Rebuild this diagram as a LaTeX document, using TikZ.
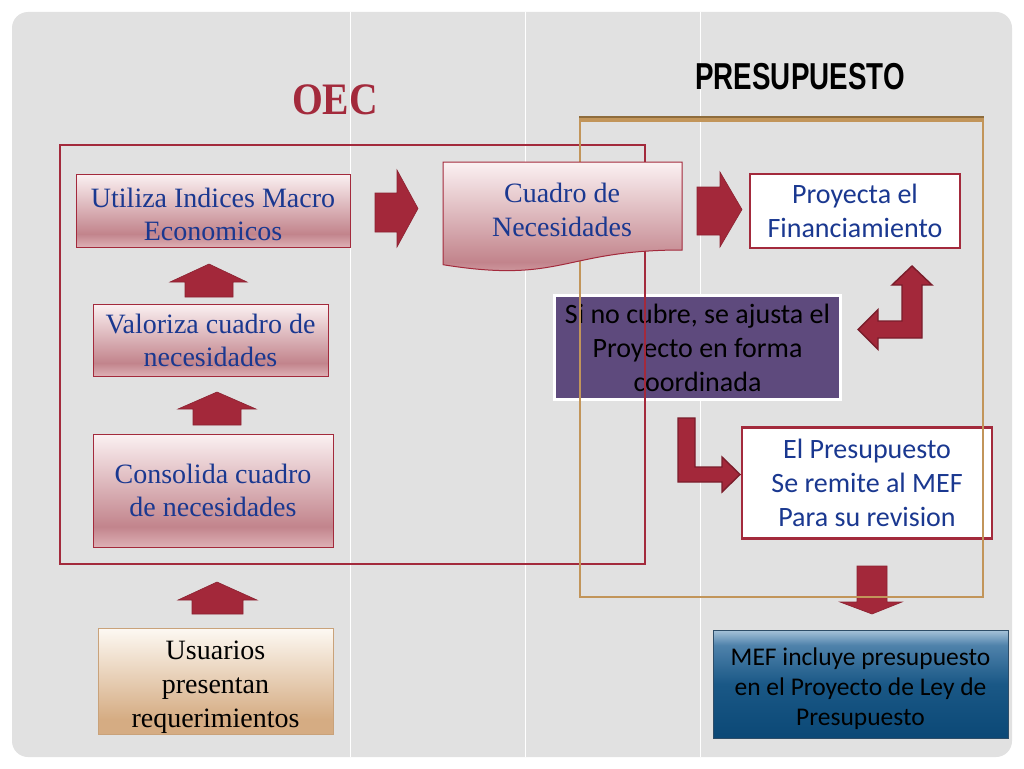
\documentclass[tikz,border=0pt]{standalone}
\usepackage{fontspec}
\usepackage{graphicx}
\setmainfont{Liberation Serif}
\newfontfamily\calibri{Carlito}
\newfontfamily\headsans{Liberation Sans}
\definecolor{panel}{HTML}{E1E1E1}
\definecolor{oecred}{HTML}{A32A3C}
\definecolor{tanline}{HTML}{C2955A}
\definecolor{tandark}{HTML}{8E6C3C}
\definecolor{arrowred}{HTML}{A3283A}
\definecolor{arrowedge}{HTML}{7A1D2B}
\definecolor{txtblue}{HTML}{1A3890}
\definecolor{purplefill}{HTML}{5E4A7D}
\definecolor{pktop}{HTML}{FBF1F2}
\definecolor{pkdark}{HTML}{C2848C}
\definecolor{pkbot}{HTML}{DDB0B5}
\definecolor{tntop}{HTML}{FDF9F3}
\definecolor{tnbot}{HTML}{D5AC83}
\definecolor{tnedge}{HTML}{C9A27A}
\definecolor{mbtop}{HTML}{A7C3D9}
\definecolor{mbmid}{HTML}{4F82AB}
\definecolor{mbdark}{HTML}{1A5886}
\definecolor{mbbot}{HTML}{0B4876}
\definecolor{mbedge}{HTML}{2E4D68}
\pgfdeclareverticalshading{pinkshade}{100bp}{color(0bp)=(pkbot); color(25bp)=(pkbot); color(34bp)=(pkdark); color(75bp)=(pktop); color(100bp)=(pktop)}
\pgfdeclareverticalshading{tanshade}{100bp}{color(0bp)=(tnbot); color(25bp)=(tnbot); color(32bp)=(tnbot); color(75bp)=(tntop); color(100bp)=(tntop)}
\pgfdeclareverticalshading{blueshade}{100bp}{color(0bp)=(mbbot); color(25bp)=(mbbot); color(50bp)=(mbdark); color(68bp)=(mbmid); color(75bp)=(mbtop); color(100bp)=(mbtop)}
\tikzset{
  oecbox/.style={draw=oecred, line width=1pt, shading=pinkshade, text=txtblue, align=center, inner sep=0pt, font=\fontsize{28}{33}\selectfont},
  userbox/.style={draw=tnedge, line width=1pt, shading=tanshade, inner sep=0pt},
  whitebox/.style={draw=oecred, line width=2.5pt, fill=white, text=txtblue, align=center, inner sep=0pt, font=\calibri\fontsize{28}{34}\selectfont},
  purplebox/.style={draw=white, line width=3pt, fill=purplefill, text=black, align=center, inner sep=0pt, font=\calibri\fontsize{28}{34}\selectfont},
  mefbox/.style={draw=mbedge, line width=1pt, shading=blueshade, inner sep=0pt},
  boxtext/.style={inner sep=0pt, align=center},
  blockarrow/.style={fill=arrowred, draw=arrowred!85!black, line width=0.6pt, line join=miter},
  bentarrow/.style={fill=arrowred, draw=arrowedge, line width=1.4pt, line join=miter}
}
\begin{document}
\begin{tikzpicture}[x=1pt,y=-1pt]
\useasboundingbox (0,0) rectangle (1024,768);
\fill[white] (0,0) rectangle (1024,768);
\fill[panel, rounded corners=16pt] (12,12) rectangle (1012,757);
\foreach \xx in {350,525,700} \draw[white, line width=1pt] (\xx,12) -- (\xx,757);

% titles
\node[inner sep=0pt, text=oecred, font=\bfseries\fontsize{45}{48}\selectfont] (oec) at (335,100) {\scalebox{0.88}[1]{OEC}};
\node[inner sep=0pt, text=black, font=\headsans\bfseries\fontsize{37.5}{40}\selectfont] (presu) at (800,76.5) {\scalebox{0.74}[1]{PRESUPUESTO}};

% purple box (under the frame lines)
\node[purplebox, minimum width=286pt, minimum height=104pt] (ajuste) at (697.5,347.5) {Si no cubre, se ajusta el\\Proyecto en forma\\coordinada};

% down arrow to MEF
\path[blockarrow] (857,566) -- (887,566) -- (887,602) -- (902,602) -- (872,614) -- (840,602) -- (857,602) -- cycle;

% El Presupuesto box
\node[whitebox, minimum width=250pt, minimum height=111pt] (remite) at (867,483) {El Presupuesto\\Se remite al MEF\\Para su revision};

% frames
\draw[oecred, line width=2pt] (60,145) rectangle (645,564);
\draw[tanline, line width=2.2pt] (580,119) -- (580,597) -- (983,597) -- (983,119);
\fill[tanline] (579,116) rectangle (984,122);
\draw[tandark, line width=1.6pt] (579,116.8) -- (984,116.8);

% left column boxes
\node[oecbox, minimum width=274pt, minimum height=73pt] (indices) at (213,210.5) {};
\node[boxtext, text=txtblue, font=\fontsize{28}{33}\selectfont] (indicestxt) at ([yshift=-3.5pt]indices.center) {Utiliza Indices Macro\\Economicos};
\node[oecbox, minimum width=235pt, minimum height=72pt] (valoriza) at (210.5,340) {Valoriza cuadro de\\necesidades};
\node[oecbox, minimum width=240pt, minimum height=113pt] (consolida) at (213,490.5) {Consolida cuadro\\de necesidades};
\node[userbox, minimum width=235pt, minimum height=106pt] (usuarios) at (215.5,681) {};
\node[boxtext, text=black, font=\fontsize{28}{34}\selectfont] (usuariostxt) at ([yshift=-6pt]usuarios.center) {Usuarios\\presentan\\requerimientos};

% up arrows
\path[blockarrow] (185,297) -- (185,282) -- (170,282) -- (209,264) -- (247,282) -- (233,282) -- (233,297) -- cycle;
\path[blockarrow] (193,425) -- (193,409) -- (178,409) -- (217,392) -- (256,409) -- (241,409) -- (241,425) -- cycle;
\path[blockarrow] (192,614) -- (192,600) -- (178,600) -- (217,582) -- (257,600) -- (243,600) -- (243,614) -- cycle;

% document shape
\path[draw=oecred, line width=1pt, shading=pinkshade] (443,162) -- (682,162) -- (682,250) .. controls (562.5,250) and (562.5,284) .. (443,264.7) -- cycle;
\node[boxtext, text=txtblue, font=\fontsize{28}{34}\selectfont] (cuadro) at (562,210) {Cuadro de\\Necesidades};

% right arrows
\path[blockarrow] (375,193) -- (397,193) -- (397,170) -- (418,208.5) -- (397,247) -- (397,232) -- (375,232) -- cycle;
\path[blockarrow] (697,187) -- (720,187) -- (720,172) -- (742,209.5) -- (720,247) -- (720,235) -- (697,235) -- cycle;

% Proyecta box
\node[whitebox, minimum width=210pt, minimum height=74pt] (proyecta) at (855,211) {Proyecta el\\Financiamiento};

% bent arrows
\path[bentarrow] (912,266) -- (932,285) -- (922,285) -- (922,338) -- (878,338) -- (878,349.5) -- (858,329.5) -- (878,309.5) -- (878,321) -- (902,321) -- (902,285) -- (892,285) -- cycle;
\path[bentarrow] (678,418) -- (695,418) -- (695,467) -- (722,467) -- (722,457) -- (740,474.5) -- (722,492) -- (722,482) -- (678,482) -- cycle;

% MEF box
\node[mefbox, minimum width=295pt, minimum height=108pt] (mef) at (860.5,684) {};
\node[boxtext, text=black, font=\calibri\fontsize{25.5}{30}\selectfont] (meftxt) at ([yshift=-5pt]mef.center) {MEF incluye presupuesto\\en el Proyecto de Ley de\\Presupuesto};
\end{tikzpicture}
\end{document}
